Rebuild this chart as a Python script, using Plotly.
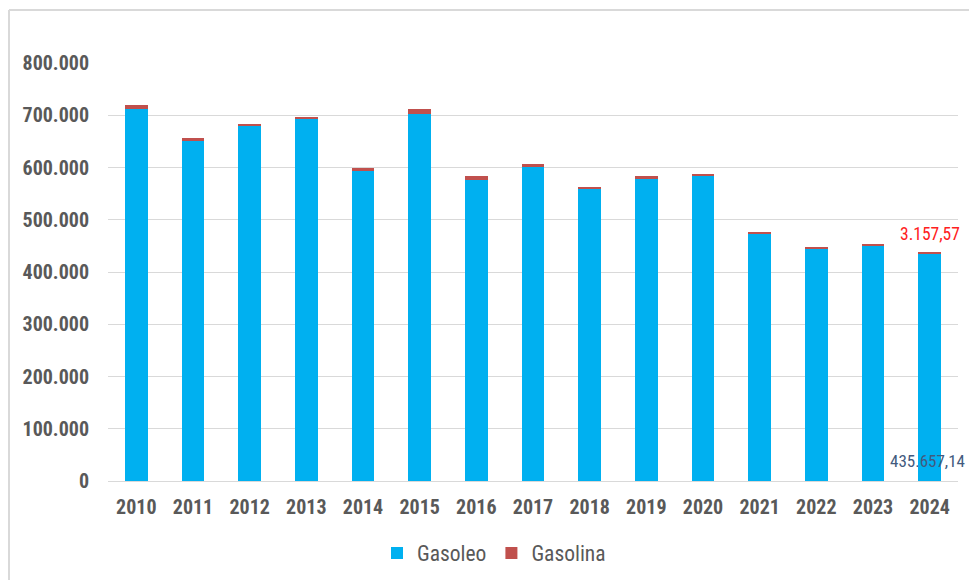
import plotly.graph_objects as go

years = ["2010", "2011", "2012", "2013", "2014", "2015", "2016", "2017",
         "2018", "2019", "2020", "2021", "2022", "2023", "2024"]
gasoleo = [712000, 650500, 678500, 692500, 593000, 702500, 577000, 602500,
           558000, 578000, 584000, 473000, 444500, 450500, 435657.14]
gasolina = [7600, 5600, 5600, 4600, 5800, 9200, 7400, 3600,
            5600, 6200, 3200, 3600, 3800, 3800, 3157.57]
y_ticks = [0, 100000, 200000, 300000, 400000, 500000, 600000, 700000, 800000]
y_tick_labels = ["0", "100.000", "200.000", "300.000", "400.000",
                 "500.000", "600.000", "700.000", "800.000"]

FONT = "Roboto Condensed, Liberation Sans Narrow, Roboto, sans-serif"
GRAY = "#595959"

W, H = 969, 580
ML, MR, MT, MB = 108, 11, 63, 99
PW, PH = W - ML - MR, H - MT - MB

fig = go.Figure()
fig.add_trace(go.Bar(name="Gasoleo", x=years, y=gasoleo,
                     marker=dict(color="#00B0F0", line=dict(width=0))))
fig.add_trace(go.Bar(name="Gasolina", x=years, y=gasolina,
                     marker=dict(color="#C0504D", line=dict(width=0))))


def fmt(v):
    s = f"{v:,.2f}"
    return s.replace(",", "X").replace(".", ",").replace("X", ".")


last = len(years) - 1  # category index of the last year
fig.add_annotation(x=last, y=gasoleo[last] + gasolina[last],
                   text=fmt(gasolina[last]), showarrow=False,
                   yanchor="bottom", yshift=6,
                   font=dict(family=FONT, size=17.5, color="#FF2020"))
fig.add_annotation(x=last, y=0, text=fmt(gasoleo[last]),
                   showarrow=False, yanchor="bottom", yshift=8, xshift=-2,
                   font=dict(family=FONT, size=17, color="#425A7E"))


def px_x(p):
    return (p - ML) / PW


def px_y(p):
    return (H - MB - p) / PH


line = dict(color="#D9D9D9", width=2)
fig.add_shape(type="line", xref="paper", yref="paper",
              x0=px_x(9), x1=px_x(969), y0=px_y(10), y1=px_y(10), line=line)
fig.add_shape(type="line", xref="paper", yref="paper",
              x0=px_x(9), x1=px_x(9), y0=px_y(10), y1=px_y(580), line=line)

fig.update_layout(
    width=W, height=H,
    margin=dict(l=ML, r=MR, t=MT, b=MB, pad=0, autoexpand=False),
    barmode="stack", bargap=0.6,
    plot_bgcolor="white", paper_bgcolor="white",
    font=dict(family=FONT, color=GRAY),
    showlegend=True,
    legend=dict(orientation="h", x=px_x(494), xanchor="center",
                y=px_y(553), yanchor="middle", traceorder="normal",
                font=dict(family=FONT, size=21.5, color=GRAY)),
    xaxis=dict(type="category", range=[-0.5, last + 0.5],
               showline=True, linecolor="#D9D9D9", linewidth=1,
               tickfont=dict(family=FONT, size=20, color=GRAY, weight="bold"),
               ticks="", ticklabelstandoff=8, showgrid=False, automargin=False),
    yaxis=dict(range=[0, 800000], tickvals=y_ticks, ticktext=y_tick_labels,
               showgrid=True, gridcolor="#D9D9D9", gridwidth=1,
               zeroline=False, ticks="", ticklabelstandoff=18, automargin=False,
               tickfont=dict(family=FONT, size=20, color=GRAY, weight="bold")),
)

fig.write_html("out.html", config={"displayModeBar": False},
               post_script="document.body.style.margin='0';")
